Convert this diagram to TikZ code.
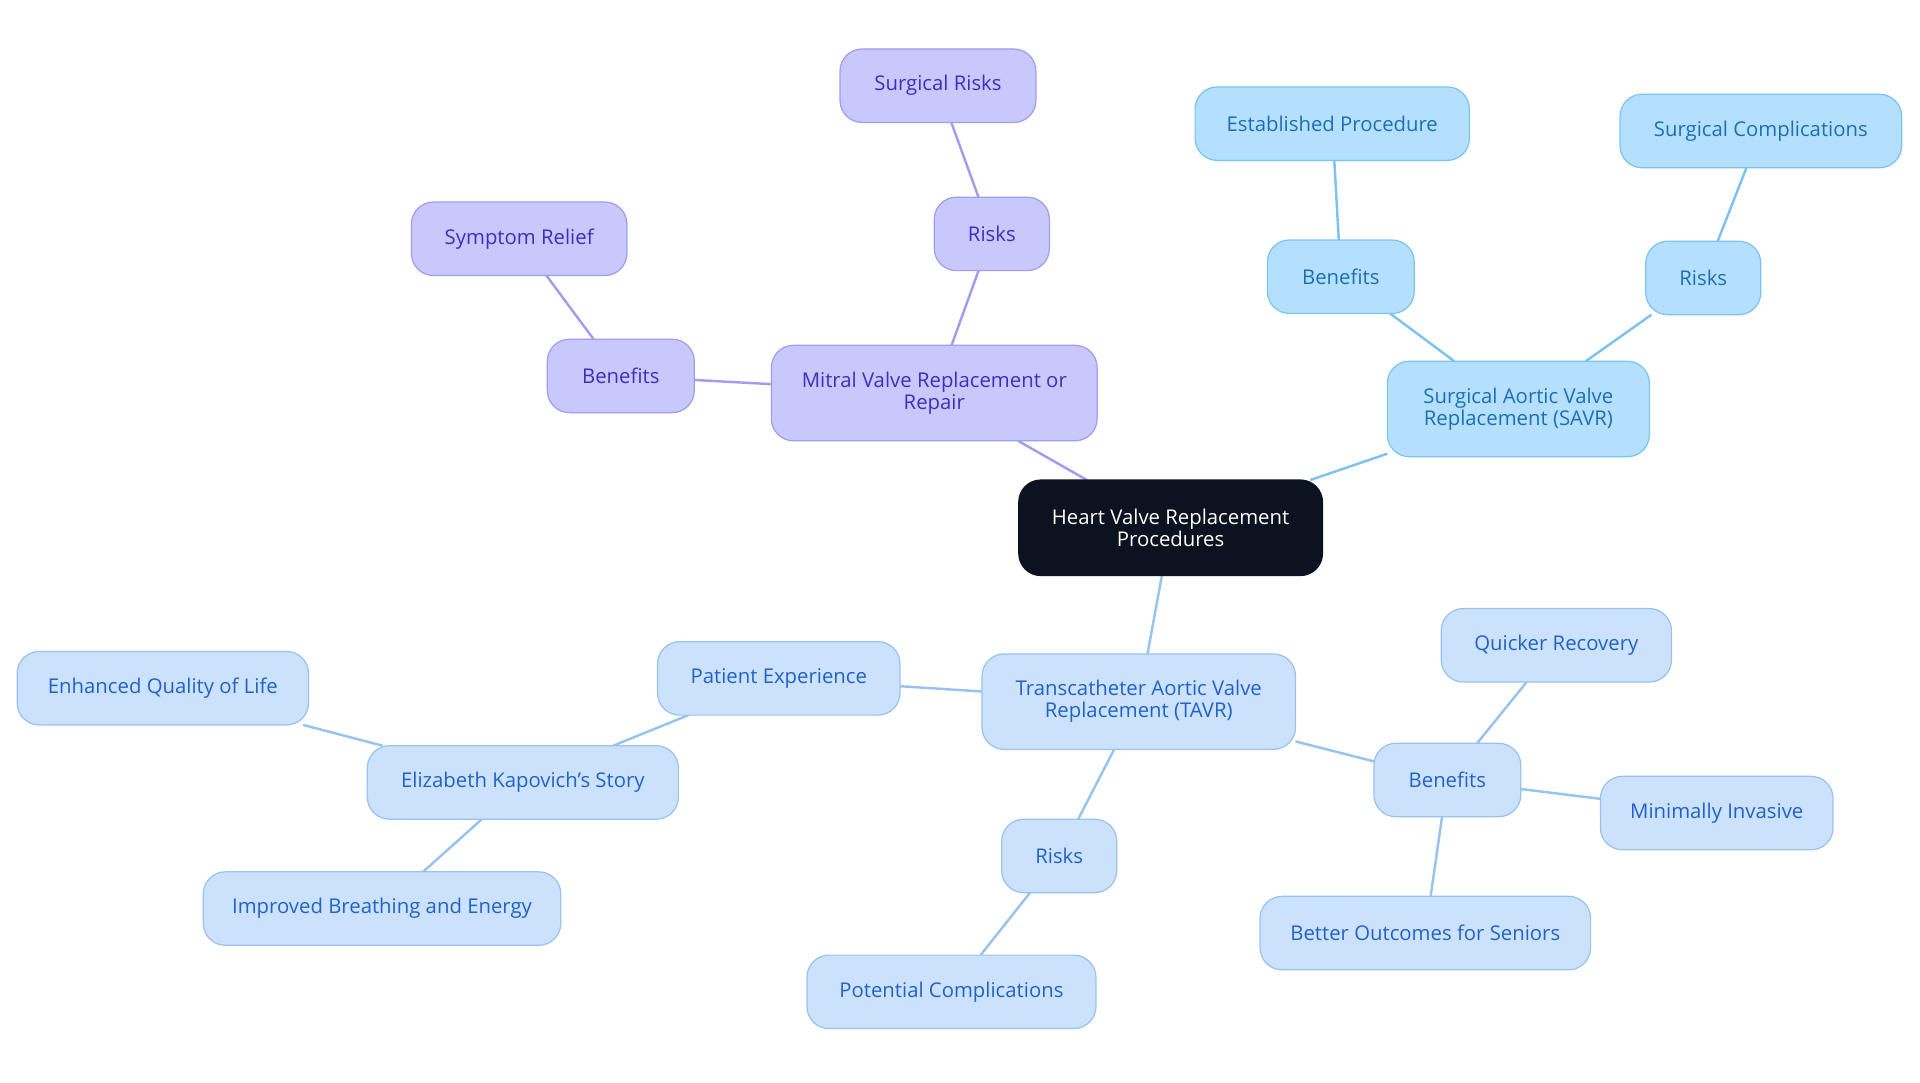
\documentclass[tikz,border=0pt]{standalone}
\usepackage{fontspec}
\setmainfont{Open Sans}
\usetikzlibrary{backgrounds}
\definecolor{rootfill}{HTML}{0B1220}
\definecolor{pfill}{HTML}{C9C8FC}\definecolor{pline}{HTML}{A09CF0}\definecolor{ptext}{HTML}{3B2FC0}
\definecolor{sfill}{HTML}{B5E0FD}\definecolor{sline}{HTML}{7CC3F0}\definecolor{stext}{HTML}{1A6FB5}
\definecolor{tfill}{HTML}{CCE1FB}\definecolor{tline}{HTML}{98C3F0}\definecolor{ttext}{HTML}{1F63C8}
\begin{document}
\begin{tikzpicture}[x=0.5pt,y=-0.5pt,inner sep=0pt,outer sep=0pt,
box/.style={draw,rectangle,rounded corners=9pt,line width=0.5pt,minimum height=30pt,font=\fontsize{8.3}{9}\selectfont,align=center},
big/.style={box,minimum height=39pt},
root/.style={big,fill=rootfill,draw=rootfill,text=white},
pnode/.style={fill=pfill,draw=pline,text=ptext},
snode/.style={fill=sfill,draw=sline,text=stext},
tnode/.style={fill=tfill,draw=tline,text=ttext},
link/.style={line width=1pt}]
\useasboundingbox (0,0) rectangle (1568,884);
\draw (956,431) node[root,minimum width=124pt] (root) {Heart Valve Replacement\\Procedures};
% mitral branch
\draw (763,321) node[big,pnode,minimum width=133pt] (mitral) {Mitral Valve Replacement or\\Repair};
\draw (507,307) node[box,pnode,minimum width=60pt] (mben) {Benefits};
\draw (424,195) node[box,pnode,minimum width=88pt] (symrel) {Symptom Relief};
\draw (810,191) node[box,pnode,minimum width=47pt] (mrisk) {Risks};
\draw (766,70) node[box,pnode,minimum width=80pt] (surgrisk) {Surgical Risks};
% SAVR branch
\draw (1240,334) node[big,snode,minimum width=107pt] (savr) {Surgical Aortic Valve\\Replacement (SAVR)};
\draw (1095,226) node[box,snode,minimum width=60pt] (sben) {Benefits};
\draw (1088,101) node[box,snode,minimum width=112pt] (estab) {Established Procedure};
\draw (1391,227) node[box,snode,minimum width=47pt] (srisk) {Risks};
\draw (1438,107) node[box,snode,minimum width=115pt] (surgcomp) {Surgical Complications};
% TAVR branch
\draw (930,573) node[big,tnode,minimum width=128pt] (tavr) {Transcatheter Aortic Valve\\Replacement (TAVR)};
\draw (636,554) node[box,tnode,minimum width=99pt] (patexp) {Patient Experience};
\draw (427,639) node[box,tnode,minimum width=127pt] (eliz) {Elizabeth Kapovich's Story};
\draw (133,562) node[box,tnode,minimum width=119pt] (enh) {Enhanced Quality of Life};
\draw (312,742) node[box,tnode,minimum width=146pt] (impr) {Improved Breathing and Energy};
\draw (865,699) node[box,tnode,minimum width=47pt] (trisk) {Risks};
\draw (777,810) node[box,tnode,minimum width=118pt] (potc) {Potential Complications};
\draw (1182,637) node[box,tnode,minimum width=60pt] (tben) {Benefits};
\draw (1271,527) node[box,tnode,minimum width=94pt] (quick) {Quicker Recovery};
\draw (1402,664) node[box,tnode,minimum width=95pt] (mini) {Minimally Invasive};
\draw (1164,762) node[box,tnode,minimum width=135pt] (better) {Better Outcomes for Seniors};
\begin{pgfonlayer}{background}
\draw[link,pline] (root) -- (mitral);
\draw[link,pline] (mitral) -- (mben);
\draw[link,pline] (mben) -- (symrel);
\draw[link,pline] (mitral) -- (mrisk);
\draw[link,pline] (mrisk) -- (surgrisk);
\draw[link,sline] (root) -- (savr);
\draw[link,sline] (savr) -- (sben);
\draw[link,sline] (sben) -- (estab);
\draw[link,sline] (savr) -- (srisk);
\draw[link,sline] (srisk) -- (surgcomp);
\draw[link,tline] (root) -- (tavr);
\draw[link,tline] (tavr) -- (patexp);
\draw[link,tline] (patexp) -- (eliz);
\draw[link,tline] (eliz) -- (enh);
\draw[link,tline] (eliz) -- (impr);
\draw[link,tline] (tavr) -- (trisk);
\draw[link,tline] (trisk) -- (potc);
\draw[link,tline] (tavr) -- (tben);
\draw[link,tline] (tben) -- (quick);
\draw[link,tline] (tben) -- (mini);
\draw[link,tline] (tben) -- (better);
\end{pgfonlayer}
\end{tikzpicture}
\end{document}
